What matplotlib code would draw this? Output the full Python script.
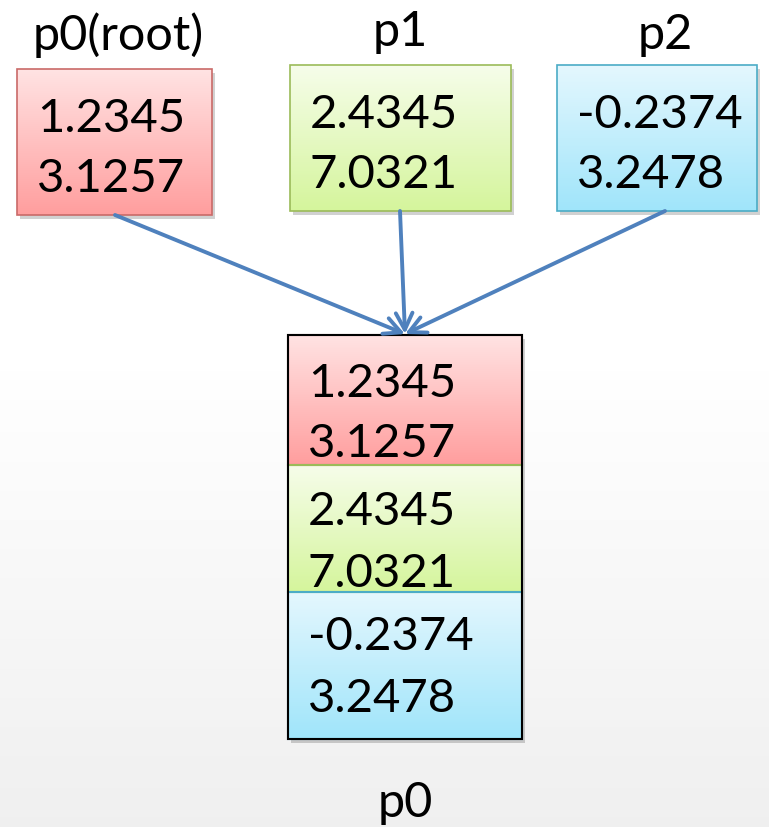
import numpy as np
import matplotlib
matplotlib.use('Agg')
import matplotlib.pyplot as plt
from matplotlib.patches import Rectangle, FancyArrowPatch

plt.rcParams['font.family'] = ['Lato', 'DejaVu Sans']

# data
proc_names = ['p0(root)', 'p1', 'p2']
proc_values = [['1.2345', '3.1257'], ['2.4345', '7.0321'], ['-0.2374', '3.2478']]
result_name = 'p0'

# colours: top of gradient, bottom of gradient, border
fill_top = ['#FFE3E3', '#F6FDEA', '#E4F7FE']
fill_bottom = ['#FF9E9E', '#D5F59C', '#A0E5FA']
edge_cols = ['#C96A68', '#9BBB59', '#4BACC6']

# layout in pixel coords (x0, y0, x1, y1)
top_boxes = [(17, 70, 212, 216), (290, 66, 511, 212), (557, 66, 757, 212)]
label_pos = [(118, 35), (400, 32), (665, 35)]
stack_x = (288, 522)
stack_y = [336, 466, 593, 740]
target = (405, 335)

fig = plt.figure(figsize=(7.69, 8.28), dpi=100)
ax = fig.add_axes([0, 0, 1, 1])
ax.set_xlim(0, 769)
ax.set_ylim(828, 0)
ax.axis('off')

# faint background gradient (white -> light grey at the bottom)
yy = np.linspace(0, 1, 256).reshape(-1, 1)
bg = 1.0 - 0.06 * np.clip((yy - 0.45) / 0.55, 0, 1)
ax.imshow(np.dstack([bg, bg, bg]), extent=(0, 769, 828, 0), aspect='auto', zorder=0)


def grad_box(x0, y0, x1, y1, c_top, c_bot, edge, lw=1.2, shadow=True):
    t = np.array(matplotlib.colors.to_rgb(c_top))
    b = np.array(matplotlib.colors.to_rgb(c_bot))
    s = np.linspace(0, 1, 128).reshape(-1, 1, 1)
    img = t * (1 - s) + b * s
    if shadow:
        ax.add_patch(Rectangle((x0 + 3, y0 + 4), x1 - x0, y1 - y0, facecolor='#000000',
                               alpha=0.18, edgecolor='none', zorder=1))
    im = ax.imshow(img, extent=(x0, x1, y1, y0), aspect='auto', zorder=2)
    r = Rectangle((x0, y0), x1 - x0, y1 - y0, facecolor='none', edgecolor=edge, lw=lw, zorder=3)
    ax.add_patch(r)
    im.set_clip_path(r)


def box_text(x0, y0, lines, off1=49, off2=109):
    ax.text(x0 + 20, y0 + off1, lines[0], fontsize=34, va='center', ha='left', zorder=4)
    ax.text(x0 + 20, y0 + off2, lines[1], fontsize=34, va='center', ha='left', zorder=4)


for i, name in enumerate(proc_names):
    x0, y0, x1, y1 = top_boxes[i]
    grad_box(x0, y0, x1, y1, fill_top[i], fill_bottom[i], edge_cols[i])
    box_text(x0, y0, proc_values[i])
    ax.text(label_pos[i][0], label_pos[i][1], name, fontsize=35, ha='center', va='center', zorder=4)

# arrows into the root
starts = [(115, 216), (400, 212), (665, 212)]
for i in range(3):
    ar = FancyArrowPatch(starts[i], target, arrowstyle='->,head_length=12,head_width=6',
                         color='#4F81BD', lw=2.8, shrinkA=0, shrinkB=0, zorder=5)
    ax.add_patch(ar)

# stacked result on root
ax.add_patch(Rectangle((stack_x[0] + 3, stack_y[0] + 4), stack_x[1] - stack_x[0],
                       stack_y[-1] - stack_y[0], facecolor='#000000', alpha=0.18,
                       edgecolor='none', zorder=1))
offs = [(48, 108), (46, 108), (44, 106)]
for i in range(3):
    grad_box(stack_x[0], stack_y[i], stack_x[1], stack_y[i + 1], fill_top[i], fill_bottom[i],
             edge_cols[i], lw=1.5, shadow=False)
    box_text(stack_x[0], stack_y[i], proc_values[i], offs[i][0], offs[i][1])
ax.add_patch(Rectangle((stack_x[0], stack_y[0]), stack_x[1] - stack_x[0], stack_y[-1] - stack_y[0],
                       facecolor='none', edgecolor='black', lw=1.5, zorder=4))
ax.text(405, 803, result_name, fontsize=35, ha='center', va='center', zorder=4)

fig.savefig('out.png', dpi=100)
